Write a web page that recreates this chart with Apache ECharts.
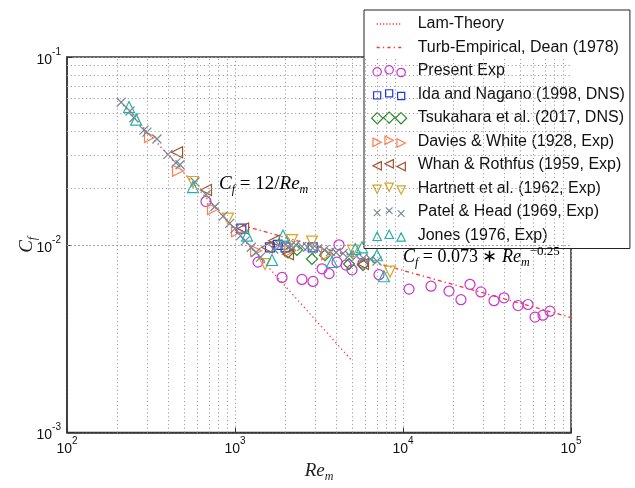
<!DOCTYPE html>
<html><head><meta charset="utf-8">
<script src="https://cdn.jsdelivr.net/npm/echarts@6/dist/echarts.min.js"></script>
<style>html,body{margin:0;padding:0;background:#fff}#c{width:635px;height:488px}</style>
</head><body><div id="c"></div>
<script>
// ---------- data ----------
const lamRe = [200, 5000];
const lamCf = [0.0600, 0.0024];
const turbRe = [1100, 100000];
const turbCf = [0.0127, 0.0041];

const presentRe = [672,1371,1905,2504,2912,3296,3629,4159,4047,4580,4970,5780,7195,10860,14680,18780,22130,25050,29110,34820,39920,48400,55470,61070,68110,74990];
const presentCf = [0.0170,0.00809,0.0067,0.00654,0.00638,0.00745,0.00702,0.0100,0.00809,0.0078,0.00736,0.00799,0.00693,0.00581,0.00602,0.00567,0.0051,0.00616,0.00561,0.00504,0.00522,0.00475,0.00481,0.00412,0.00422,0.00443];

const idaRe = [1090,1615,1800,2000,2900];
const idaCf = [0.0122,0.0097,0.0100,0.0097,0.0097];

const tsukRe = [2067,2339,2873,3433,4770,5780];
const tsukCf = [0.0091,0.0094,0.0084,0.0088,0.0079,0.0078];

const daviesRe = [312,458,740,1028,1334,2130,3530];
const daviesCf = [0.0375,0.0248,0.0155,0.0118,0.0093,0.0093,0.0089];

const whanRe = [452,672,1117,1550,1707,2067,5780];
const whanCf = [0.0311,0.0196,0.0122,0.0097,0.0105,0.0089,0.0079];

const hartRe = [562,908,1509,2184,2873,5040,8370];
const hartCf = [0.0216,0.0138,0.0079,0.0106,0.0104,0.0093,0.0072];

const patelRe = [210,237,250,287,299,343,399,445,471,578,672,760,850,930,1000,1080,1150,1250,1330,1420,
                 1700,1850,2000,2150,2300,2500,2700,2900,3100,3400,3700,4000,4400,4800,5300,5800,6400,7000];
const patelCf = [0.0574,0.0516,0.0475,0.0408,0.0398,0.0366,0.0303,0.0273,0.0267,0.0216,0.0185,0.0160,0.0142,0.0130,0.0122,0.0112,0.0105,0.0097,0.0091,0.0086,
                 0.0095,0.0099,0.0101,0.0099,0.0100,0.0098,0.0097,0.0096,0.0095,0.0094,0.0092,0.0091,0.0090,0.0088,0.0087,0.0085,0.0084,0.0082];

const jonesRe = [234,258,562,1179,1660,1931,3777,5200,5700,7000,7700];
const jonesCf = [0.0541,0.0464,0.0203,0.0112,0.0083,0.0112,0.0081,0.0095,0.0097,0.0088,0.0068];

const xTickValues = [100, 1000, 10000, 100000];
const xTickExp = ['2', '3', '4', '5'];
const yTickValues = [0.001, 0.01, 0.1];
const yTickExp = ['-3', '-2', '-1'];
const minorX = [200,300,400,500,600,700,800,900,2000,3000,4000,5000,6000,7000,8000,9000,20000,30000,40000,50000,60000,70000,80000,90000];
const minorY = [0.002,0.003,0.004,0.005,0.006,0.007,0.008,0.009,0.02,0.03,0.04,0.05,0.06,0.07,0.08,0.09];

const legendNames = ['Lam-Theory','Turb-Empirical, Dean (1978)','Present Exp','Ida and Nagano (1998, DNS)',
  'Tsukahara et al. (2017, DNS)','Davies & White (1928, Exp)','Whan & Rothfus (1959, Exp)',
  'Hartnett et al. (1962, Exp)','Patel & Head (1969, Exp)','Jones (1976, Exp)'];

// ---------- styling ----------
const RED = '#ff3333';
const colors = {
  present: '#cc33cc', ida: '#2233ee', tsuk: '#228b22', davies: '#ff7f50',
  whan: '#a0522d', hart: '#daa520', patel: '#778899', jones: '#20b2aa'
};
const zip = (a, b) => a.map((v, i) => [v, b[i]]);

// legend icon helpers (3 markers like matplotlib)
const LX = [4.5, 16.5, 28.5], LY = [6.8, 4.8, 7.5], LR = 4.2;
function shape(kind, cx, cy, r) {
  const f = n => n.toFixed(2);
  switch (kind) {
    case 'circle': return `M${f(cx-r)},${f(cy)}A${r},${r} 0 1,0 ${f(cx+r)},${f(cy)}A${r},${r} 0 1,0 ${f(cx-r)},${f(cy)}Z`;
    case 'square': { const s = r*0.85; return `M${f(cx-s)},${f(cy-s)}L${f(cx+s)},${f(cy-s)}L${f(cx+s)},${f(cy+s)}L${f(cx-s)},${f(cy+s)}Z`; }
    case 'diamond': { const s = r*1.35; return `M${f(cx)},${f(cy-s)}L${f(cx+s)},${f(cy)}L${f(cx)},${f(cy+s)}L${f(cx-s)},${f(cy)}Z`; }
    case 'up': return `M${f(cx-r)},${f(cy+r)}L${f(cx)},${f(cy-r)}L${f(cx+r)},${f(cy+r)}Z`;
    case 'down': return `M${f(cx-r)},${f(cy-r)}L${f(cx+r)},${f(cy-r)}L${f(cx)},${f(cy+r)}Z`;
    case 'right': return `M${f(cx-r)},${f(cy-r)}L${f(cx+r)},${f(cy)}L${f(cx-r)},${f(cy+r)}Z`;
    case 'left': return `M${f(cx+r)},${f(cy-r)}L${f(cx-r)},${f(cy)}L${f(cx+r)},${f(cy+r)}Z`;
    case 'x': { const s = r*0.8; return `M${f(cx-s)},${f(cy-s)}L${f(cx+s)},${f(cy+s)}M${f(cx+s)},${f(cy-s)}L${f(cx-s)},${f(cy+s)}`; }
  }
}
const FRAME = 'path://M-1,-1L-0.99,-1M34,13L33.99,13';
function tri(kind, ys) {
  let p = FRAME;
  const yy = ys || LY;
  for (let i = 0; i < 3; i++) p += shape(kind, LX[i], yy[i], LR);
  return p;
}
function dashes(segs) {
  let p = FRAME;
  segs.forEach(([x, w]) => p += `M${x},6L${x + w},6`);
  return p;
}
const dottedIcon = dashes([[4,1.2],[7.2,1.2],[10.4,1.2],[13.6,1.2],[16.8,1.2],[20,1.2],[23.2,1.2],[26.4,1.2]]);
const dashdotIcon = dashes([[4,3.0],[10.3,1.2],[14.8,3.0],[21.1,1.2],[25.6,3.0]]);

function scatter(name, re, cf, color, symbol, size, rotate) {
  return {
    name, type: 'scatter', data: zip(re, cf), symbol, symbolSize: size, symbolRotate: rotate || 0,
    itemStyle: { color: 'rgba(0,0,0,0)', borderColor: color, borderWidth: 1.2, opacity: 1 },
    emphasis: { disabled: true }, z: 3
  };
}

const xPath = 'path://M0,0L10,10M10,0L0,10';
const diamondPath = 'path://M5,0L10,5L5,10L0,5Z';

const chart = echarts.init(document.getElementById('c'), null, { renderer: 'canvas' });

const gridLine = { color: '#a0a0a0', width: 1, type: [1.2, 2.6] };

const supRich = {
  b: { fontSize: 14, fontFamily: 'Liberation Sans', color: '#111', lineHeight: 20, verticalAlign: 'bottom' },
  s: { fontSize: 10, fontFamily: 'Liberation Sans', color: '#111', lineHeight: 20, verticalAlign: 'top' }
};
const mathRich = {
  i: { fontSize: 19, fontFamily: 'Liberation Serif', fontStyle: 'italic', color: '#222', lineHeight: 24, verticalAlign: 'middle' },
  n: { fontSize: 19, fontFamily: 'Liberation Serif', color: '#222', lineHeight: 24, verticalAlign: 'middle' },
  sub: { fontSize: 12, fontFamily: 'Liberation Serif', fontStyle: 'italic', color: '#222', lineHeight: 12, verticalAlign: 'bottom' },
  sup: { fontSize: 13, fontFamily: 'Liberation Serif', color: '#222', lineHeight: 12, verticalAlign: 'top' }
};
const math2Rich = Object.assign({}, mathRich, {
  i: Object.assign({}, mathRich.i, { fontSize: 18 }),
  n: Object.assign({}, mathRich.n, { fontSize: 18 })
});

const legendIcons = [dottedIcon, dashdotIcon, tri('circle'), tri('square'), tri('diamond', [6.2, 5.6, 6.2]), tri('right'), tri('left'), tri('down'), tri('x'), tri('up')];
const legendColors = [RED, RED, colors.present, colors.ida, colors.tsuk, colors.davies, colors.whan, colors.hart, colors.patel, colors.jones];

const option = {
  backgroundColor: '#fff',
  animation: false,
  grid: { left: 67, right: 64, top: 57, bottom: 41, show: true, borderColor: '#333', borderWidth: 1.5, backgroundColor: '#fff' },
  xAxis: {
    type: 'log', logBase: 10, min: 100, max: 100000,
    name: '{i|Re}{sub|m}', nameLocation: 'middle', nameGap: 22,
    nameTextStyle: { rich: mathRich },
    axisLine: { lineStyle: { color: '#333', width: 1.5 } },
    axisTick: { inside: true, length: 5, lineStyle: { color: '#333' } },
    axisLabel: { margin: 4, formatter: v => { const i = xTickValues.findIndex(t => Math.abs(t - v) / t < 1e-6); return i < 0 ? '' : '{b|10}{s|' + xTickExp[i] + '}'; }, rich: supRich },
    splitLine: { show: true, lineStyle: gridLine }
  },
  yAxis: {
    type: 'log', logBase: 10, min: 0.001, max: 0.1,
    name: '{i|C}{sub|f}', nameLocation: 'middle', nameGap: 28, nameMoveOverlap: false,
    nameTextStyle: { rich: mathRich },
    axisLine: { lineStyle: { color: '#333', width: 1.5 } },
    axisTick: { inside: true, length: 5, lineStyle: { color: '#333' } },
    axisLabel: { margin: 6, formatter: v => { const i = yTickValues.findIndex(t => Math.abs(t - v) / t < 1e-6); return i < 0 ? '' : '{b|10}{s|' + yTickExp[i] + '}'; }, rich: supRich },
    splitLine: { show: true, lineStyle: gridLine }
  },
  legend: {
    orient: 'vertical', left: 364, top: 10,
    padding: [6, 5, 5, 7], itemGap: 7.5,
    itemWidth: 35, itemHeight: 14,
    backgroundColor: '#fff', borderColor: '#222', borderWidth: 1, borderRadius: 0,
    textStyle: { fontSize: 16, fontFamily: 'Liberation Sans', color: '#111', padding: [0, 0, 0, 6] },
    selectedMode: false,
    data: legendNames.map((n, i) => ({
      name: n, icon: legendIcons[i],
      itemStyle: { color: 'rgba(0,0,0,0)', borderColor: legendColors[i], borderWidth: i < 2 ? 1.3 : 1.2, borderType: 'solid', opacity: 1 }
    }))
  },
  series: [
    { name: legendNames[0], type: 'line', data: zip(lamRe, lamCf), symbol: 'none', color: RED,
      itemStyle: { color: RED }, lineStyle: { color: RED, width: 1.3, type: [1.3, 3] }, z: 2 },
    { name: legendNames[1], type: 'line', data: zip(turbRe, turbCf), symbol: 'none', color: RED,
      itemStyle: { color: RED }, lineStyle: { color: RED, width: 1.3, type: [4, 3, 1.3, 3] }, z: 2 },
    scatter(legendNames[2], presentRe, presentCf, colors.present, 'circle', 10),
    scatter(legendNames[3], idaRe, idaCf, colors.ida, 'rect', 9),
    scatter(legendNames[4], tsukRe, tsukCf, colors.tsuk, diamondPath, 11),
    scatter(legendNames[5], daviesRe, daviesCf, colors.davies, 'triangle', 11, -90),
    scatter(legendNames[6], whanRe, whanCf, colors.whan, 'triangle', 11, 90),
    scatter(legendNames[7], hartRe, hartCf, colors.hart, 'triangle', 11, 180),
    scatter(legendNames[8], patelRe, patelCf, colors.patel, xPath, 9),
    scatter(legendNames[9], jonesRe, jonesCf, colors.jones, 'triangle', 11),
    { name: '_grid', type: 'scatter', data: [], silent: true, z: 1,
      markLine: { silent: true, symbol: 'none', label: { show: false }, lineStyle: gridLine, animation: false,
        data: minorX.map(v => ({ xAxis: v })).concat(minorY.map(v => ({ yAxis: v }))) } }
  ]
};
chart.setOption(option);

const p1 = chart.convertToPixel({ gridIndex: 0 }, [804, 0.021]);
const p2 = chart.convertToPixel({ gridIndex: 0 }, [10000, 0.0086]);
chart.setOption({
  graphic: [
    { type: 'text', x: p1[0], y: p1[1], z: 10,
      style: { text: '{i|C}{sub|f}{n| = 12/}{i|Re}{sub|m}', rich: mathRich, verticalAlign: 'middle', align: 'left' } },
    { type: 'text', x: p2[0], y: p2[1], z: 10,
      style: { text: '{i|C}{sub|f}{n| = 0.073 ∗ }{i|Re}{sub|m}{sup|−0.25}', rich: math2Rich, verticalAlign: 'middle', align: 'left' } }
  ]
});
</script></body></html>
